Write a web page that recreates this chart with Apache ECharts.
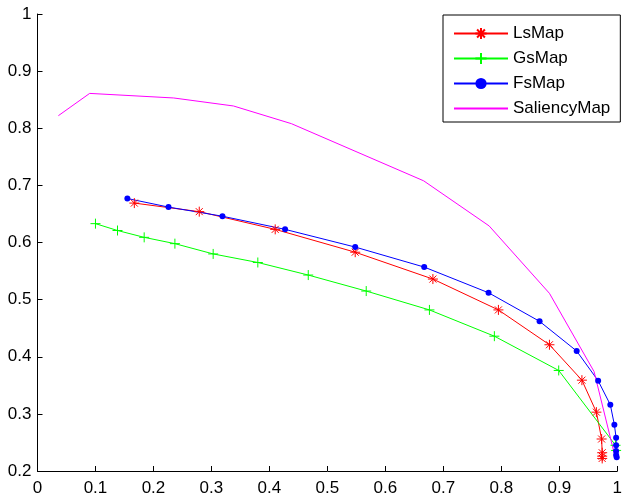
<!DOCTYPE html>
<html>
<head>
<meta charset="utf-8">
<script src="https://cdn.jsdelivr.net/npm/echarts@6/dist/echarts.min.js"></script>
<style>
  html, body { margin: 0; padding: 0; background: #fff; }
  #chart { width: 625px; height: 500px; }
</style>
</head>
<body>
<div id="chart"></div>
<script>
// 曲线数据, 每条曲线的点为 [x, y]
let lsMap = [
    [0.167, 0.669], [0.279, 0.654], [0.410, 0.623], [0.548, 0.583], [0.682, 0.536],
    [0.795, 0.482], [0.883, 0.421], [0.939, 0.359], [0.964, 0.303], [0.973, 0.256],
    [0.974, 0.232], [0.974, 0.226], [0.974, 0.222]
];
let gsMap = [
    [0.100, 0.633], [0.138, 0.621], [0.184, 0.609], [0.237, 0.598], [0.303, 0.580],
    [0.380, 0.565], [0.467, 0.543], [0.567, 0.515], [0.676, 0.482], [0.788, 0.436],
    [0.899, 0.376], [0.997, 0.245], [0.998, 0.236]
];
let fsMap = [
    [0.155, 0.677], [0.226, 0.662], [0.319, 0.646], [0.427, 0.623], [0.548, 0.592],
    [0.667, 0.557], [0.778, 0.512], [0.866, 0.462], [0.930, 0.410], [0.967, 0.358],
    [0.988, 0.316], [0.995, 0.281], [0.998, 0.258], [0.998, 0.245], [0.998, 0.235],
    [0.998, 0.228], [0.999, 0.224]
];
let saliencyMap = [
    [0.036, 0.822], [0.090, 0.861], [0.235, 0.853], [0.338, 0.839], [0.438, 0.808],
    [0.666, 0.708], [0.779, 0.629], [0.883, 0.511], [0.960, 0.374], [0.995, 0.230]
];
let seriesNames = ['LsMap', 'GsMap', 'FsMap', 'SaliencyMap'];

let font = 'Liberation Sans, Arial, Helvetica, sans-serif';

// 星号和十字标记, 用描边画
let starPath = 'path://M0,5H10M5,0V10M1.5,1.5L8.5,8.5M1.5,8.5L8.5,1.5';
let plusPath = 'path://M0,5H10M5,0V10';

function lineSeries(name, data, color, symbol, size, filled) {
    return {
        name: name,
        type: 'line',
        data: data,
        symbol: symbol,
        symbolSize: size,
        showSymbol: symbol !== 'none',
        animation: false,
        lineStyle: { color: color, width: 1 },
        itemStyle: filled
            ? { color: color, borderColor: color, borderWidth: 0 }
            : { color: 'none', borderColor: color, borderWidth: 1 }
    };
}

let chart = echarts.init(document.getElementById('chart'));
chart.setOption({
    backgroundColor: '#fff',
    animation: false,
    grid: { left: 37.5, right: 3.5, top: 14, bottom: 29 },
    xAxis: {
        type: 'value',
        min: 0, max: 1, interval: 0.1,
        axisLine: { lineStyle: { color: '#000', width: 1 } },
        axisTick: { inside: true, length: 5, lineStyle: { color: '#000' } },
        axisLabel: { color: '#000', fontSize: 17, fontFamily: font, margin: 9 },
        splitLine: { show: false }
    },
    yAxis: {
        type: 'value',
        min: 0.2, max: 1, interval: 0.1,
        axisLine: { show: true, lineStyle: { color: '#000', width: 1 } },
        axisTick: { show: true, inside: true, length: 5, lineStyle: { color: '#000' } },
        axisLabel: { color: '#000', fontSize: 17, fontFamily: font, margin: 6 },
        splitLine: { show: false }
    },
    legend: {
        data: [
            seriesNames[0], seriesNames[1], seriesNames[2],
            { name: seriesNames[3], itemStyle: { opacity: 0 } } // 无标记
        ],
        orient: 'vertical',
        left: 443, top: 15,
        padding: [10, 10, 5, 10],
        itemWidth: 54, itemHeight: 14, itemGap: 8,
        borderColor: '#000', borderWidth: 1,
        backgroundColor: '#fff',
        textStyle: { color: '#000', fontSize: 17, fontFamily: font }
    },
    series: [
        lineSeries('LsMap', lsMap, '#ff0000', starPath, 10, false),
        lineSeries('GsMap', gsMap, '#00ff00', plusPath, 10, false),
        lineSeries('FsMap', fsMap, '#0000ff', 'circle', 6, true),
        lineSeries('SaliencyMap', saliencyMap, '#ff00ff', 'none', 0, true)
    ]
});
</script>
</body>
</html>
